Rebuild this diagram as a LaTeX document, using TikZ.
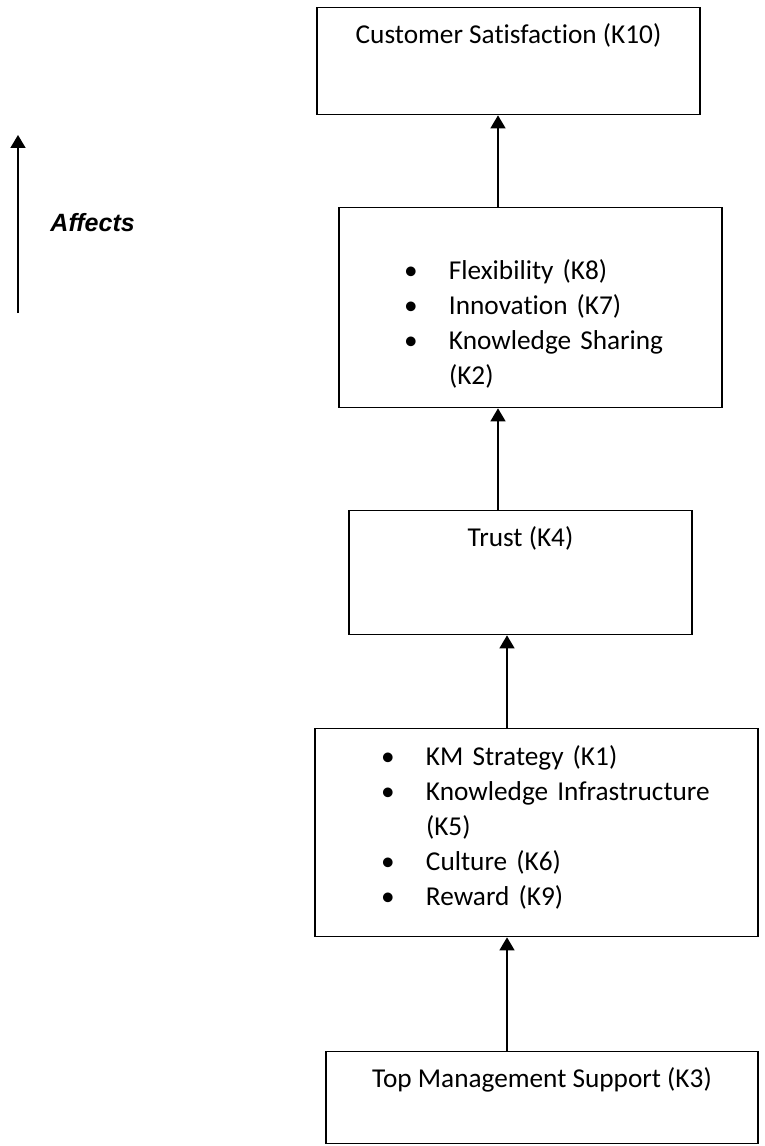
\documentclass[tikz,border=0pt]{standalone}
\usepackage{fontspec}
\setmainfont[Ligatures=NoCommon]{Carlito}
\newfontfamily\arialfont{Liberation Sans}
\usetikzlibrary{arrows.meta}
\newlength\upx
\setlength\upx{0.44pt}
\newcommand\puce[2]{\mbox{\hspace*{#1\upx}\makebox[45\upx][l]{\textbullet}#2}}
\newcommand\suite[2]{\mbox{\hspace*{#1\upx}\hspace*{45\upx}#2}}
\begin{document}
\begin{tikzpicture}[x=0.44pt,y=-0.44pt]
	% Styles
	\tikzstyle{fleche}=[-{Triangle[width=6.6pt,length=5.7pt]},line width=0.6pt]
	\tikzstyle{boite}=[draw,line width=0.6pt,inner sep=0pt,anchor=north,font=\fontsize{12}{15.4}\selectfont]
	\tikzstyle{liste}=[boite,align=left]
	\tikzstyle{legende}=[anchor=base west,inner sep=0pt,font=\arialfont\bfseries\itshape\fontsize{11}{13}\selectfont]
	% Cadre
	\useasboundingbox (0,0) rectangle (764,1146);
	% Axes des fleches
	\coordinate (axeA) at (498,0);
	\coordinate (axeB) at (507,0);
	% Boites
	\node[boite,minimum width=383*\upx,text height=36*\upx,text depth=71*\upx] (K10) at (508.5,7) {Customer Satisfaction (K10)};
	\node[liste,text width=383*\upx,text height=72*\upx,text depth=128*\upx] (Kmid) at (530.5,207)
		{\puce{65}{Flexibility (K8)}\\ \puce{65}{Innovation (K7)}\\ \puce{65}{Knowledge Sharing}\\ \suite{65}{(K2)}};
	\node[boite,minimum width=343*\upx,text height=36*\upx,text depth=88*\upx] (K4) at (520.5,510) {Trust (K4)};
	\node[liste,text width=443*\upx,text height=37*\upx,text depth=171*\upx] (Kbas) at (536.5,728)
		{\puce{66}{KM Strategy (K1)}\\ \puce{66}{Knowledge Infrastructure}\\ \suite{66}{(K5)}\\ \puce{66}{Culture (K6)}\\ \puce{66}{Reward (K9)}};
	\node[boite,minimum width=432*\upx,text height=36*\upx,text depth=56*\upx] (K3) at (542,1051) {Top Management Support (K3)};
	% Fleches
	\draw[fleche] (Kmid.north -| axeA) -- (K10.south -| axeA);
	\draw[fleche] (K4.north -| axeA) -- (Kmid.south -| axeA);
	\draw[fleche] (Kbas.north -| axeB) -- (K4.south -| axeB);
	\draw[fleche] (K3.north -| axeB) -- (Kbas.south -| axeB);
	% Legende
	\coordinate (affBas) at (18,313);
	\coordinate (affHaut) at (18,135);
	\draw[fleche] (affBas) -- (affHaut);
	\node[legende] (affects) at (50,231) {Affects};
\end{tikzpicture}
\end{document}
